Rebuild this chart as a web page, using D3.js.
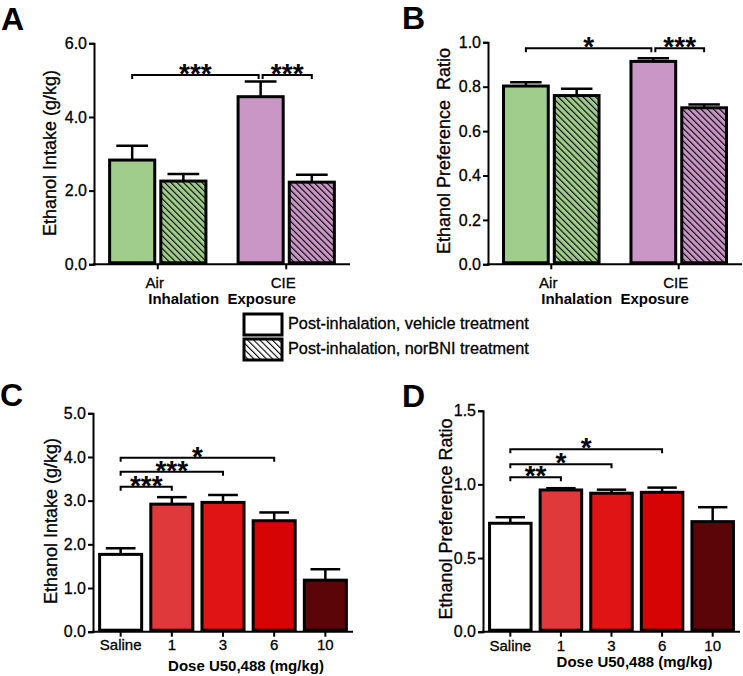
<!DOCTYPE html>
<html>
<head>
<meta charset="utf-8">
<script src="https://cdn.jsdelivr.net/npm/d3@7"></script>
<style>
  html, body { margin: 0; padding: 0; background: #fff; }
  svg { display: block; font-family: "Liberation Sans", Arial, sans-serif; }
  text { fill: #000; }
  text.reg { stroke: #000; stroke-width: 0.3px; }
</style>
</head>
<body>
<svg id="chart" width="743" height="676"></svg>
<script>
// ---------- DATA ----------
const groupsAB = ["Air", "CIE"];
const treatmentsAB = ["vehicle", "norBNI"];
const groupColors = ["#a0cc8c", "#c996c6"];

const intakeMeanA = [[2.83, 2.26], [4.55, 2.23]];
const intakeErrA  = [[0.39, 0.19], [0.41, 0.20]];
const yTicksA = [0, 2, 4, 6];

const prefMeanB = [[0.803, 0.760], [0.914, 0.705]];
const prefErrB  = [[0.017, 0.031], [0.014, 0.015]];
const yTicksB = [0, 0.2, 0.4, 0.6, 0.8, 1.0];

const doses = ["Saline", "1", "3", "6", "10"];
const doseColors = ["#ffffff", "#e0393c", "#e01414", "#d60404", "#5c0508"];
const intakeC = [1.77, 2.92, 2.96, 2.54, 1.18];
const intakeErrC = [0.14, 0.16, 0.17, 0.19, 0.25];
const yTicksC = [0, 1, 2, 3, 4, 5];

const prefD = [0.736, 0.962, 0.940, 0.946, 0.747];
const prefErrD = [0.041, 0.012, 0.024, 0.032, 0.098];
const yTicksD = [0, 0.5, 1.0, 1.5];

const legendLabels = ["Post-inhalation, vehicle treatment", "Post-inhalation, norBNI treatment"];

// significance brackets: [from, to, level, label]
const sigA = [[[0,0],[1,0], 5.14, "***"], [[1,0],[1,1], 5.14, "***"]];
const sigB = [[[0,0],[1,0], 0.973, "*"], [[1,0],[1,1], 0.973, "***"]];
const sigC = [[0,1,3.32,"***"],[0,2,3.66,"***"],[0,3,3.98,"*"]];
const sigD = [[0,1,1.048,"**"],[0,2,1.136,"*"],[0,3,1.238,"*"]];

// ---------- SETUP ----------
const svg = d3.select("#chart");
const defs = svg.append("defs");
function makeHatch(id, color) {
  const p = defs.append("pattern")
    .attr("id", id)
    .attr("patternUnits", "userSpaceOnUse")
    .attr("width", 4.4).attr("height", 4.4)
    .attr("patternTransform", "rotate(-45)");
  p.append("rect").attr("width", 4.4).attr("height", 4.4).attr("fill", color);
  p.append("line").attr("x1", 0).attr("y1", 0).attr("x2", 0).attr("y2", 4.4)
    .attr("stroke", "#000").attr("stroke-width", 2.2);
}
groupColors.forEach((c, i) => makeHatch("hatch" + i, c));
makeHatch("hatchW", "#fff");

function drawYAxis(g, y, x0, ticks, fmt) {
  const ax = d3.axisLeft(y).tickValues(ticks).tickFormat(fmt).tickSize(5).tickPadding(2);
  const a = g.append("g").attr("transform", `translate(${x0},0)`).call(ax);
  a.select(".domain").attr("stroke", "#000").attr("stroke-width", 2);
  a.selectAll(".tick line").attr("stroke", "#000").attr("stroke-width", 2);
  a.selectAll(".tick text").attr("font-size", 16).attr("fill", "#000").attr("class", "reg")
    .attr("font-family", "Liberation Sans, Arial, sans-serif");
  return a;
}

function drawXAxisLine(g, x0, x1, y0, tickXs) {
  g.append("line").attr("x1", x0 - 1).attr("x2", x1).attr("y1", y0).attr("y2", y0)
    .attr("stroke", "#000").attr("stroke-width", 2);
  tickXs.forEach(tx => {
    g.append("line").attr("x1", tx).attr("x2", tx).attr("y1", y0).attr("y2", y0 + 5)
      .attr("stroke", "#000").attr("stroke-width", 2);
  });
}

function bar(g, x, w, y, v, err, fill) {
  const top = y(v), base = y(0);
  const cx = x + w / 2, capW = w * 0.33;
  g.append("line").attr("x1", cx).attr("x2", cx).attr("y1", top).attr("y2", y(v + err))
    .attr("stroke", "#000").attr("stroke-width", 2.5);
  g.append("line").attr("x1", cx - capW).attr("x2", cx + capW).attr("y1", y(v + err)).attr("y2", y(v + err))
    .attr("stroke", "#000").attr("stroke-width", 2.5);
  g.append("rect").attr("x", x + 1.5).attr("y", top).attr("width", w - 3).attr("height", base - top - 1.5)
    .attr("fill", fill).attr("stroke", "#000").attr("stroke-width", 3);
}

function bracket(g, xa, xb, yy, label, fs) {
  g.append("path")
    .attr("d", `M${xa},${yy + 4}L${xa},${yy}L${xb},${yy}L${xb},${yy + 4}`)
    .attr("fill", "none").attr("stroke", "#000").attr("stroke-width", 2);
  g.append("text").attr("x", (xa + xb) / 2).attr("y", yy + 8)
    .attr("text-anchor", "middle").attr("font-size", fs).attr("font-weight", "bold")
    .text(label);
}

function panelLetter(x, y, t) {
  svg.append("text").attr("x", x).attr("y", y).attr("font-size", 32).attr("font-weight", "bold")
    .attr("font-family", "Liberation Sans, Arial, sans-serif").text(t);
}

function yTitle(x, yc, t) {
  svg.append("text").attr("class", "reg").attr("transform", `translate(${x},${yc}) rotate(-90)`)
    .attr("text-anchor", "middle").attr("font-size", 18).style("white-space", "pre").text(t);
}

// ---------- PANELS A & B ----------
function panelAB(x0, x1, yTop, yBot, domainMax, ticks, fmt, means, errs, sig, title, letterX, letterY) {
  const g = svg.append("g");
  const y = d3.scaleLinear().domain([0, domainMax]).range([yBot, yTop]);
  const xg = d3.scaleBand().domain(groupsAB).range([x0, x1]).paddingInner(0.227).paddingOuter(0.11);
  const xi = d3.scaleBand().domain(treatmentsAB).range([0, xg.bandwidth()]).paddingInner(0.06);
  groupsAB.forEach((gr, gi) => {
    treatmentsAB.forEach((tr, ti) => {
      const fill = ti === 0 ? groupColors[gi] : `url(#hatch${gi})`;
      bar(g, xg(gr) + xi(tr), xi.bandwidth(), y, means[gi][ti], errs[gi][ti], fill);
    });
  });
  drawXAxisLine(g, x0, x1, yBot, groupsAB.map(d => xg(d) + xg.bandwidth() / 2));
  drawYAxis(g, y, x0, ticks, fmt);
  groupsAB.forEach(gr => {
    g.append("text").attr("class", "reg").attr("x", xg(gr) + xg.bandwidth() / 2 - 3).attr("y", yBot + 24)
      .attr("text-anchor", "middle").attr("font-size", 15).text(gr);
  });
  g.append("text").attr("x", (x0 + x1) / 2).attr("y", yBot + 40).attr("text-anchor", "middle")
    .attr("font-size", 15).attr("font-weight", "bold").style("white-space", "pre").text("Inhalation  Exposure");
  const cx = (gi, ti) => xg(groupsAB[gi]) + xi(treatmentsAB[ti]) + xi.bandwidth() / 2;
  sig.forEach((s, k) => {
    let xa = cx(s[0][0], s[0][1]), xb = cx(s[1][0], s[1][1]);
    if (k === 0) xb -= 2; else xa += 2;
    bracket(g, xa, xb, y(s[2]), s[3], 28);
  });
  panelLetter(letterX, letterY, title);
}

panelAB(94, 350, 43.3, 264.3, 6, yTicksA, d3.format(".1f"), intakeMeanA, intakeErrA, sigA, "A", 1, 30);
yTitle(56, 153, "Ethanol Intake (g/kg)");
panelAB(488, 742, 42.3, 264.3, 1.0, yTicksB, d3.format(".1f"), prefMeanB, prefErrB, sigB, "B", 402, 29);
yTitle(450, 151, "Ethanol Preference  Ratio");

// ---------- LEGEND ----------
{
  const lg = svg.append("g");
  const fills = ["#fff", "url(#hatchW)"];
  const ys = [313, 338];
  legendLabels.forEach((l, i) => {
    lg.append("rect").attr("x", 244).attr("y", ys[i] + 1).attr("width", 38).attr("height", 21)
      .attr("fill", fills[i]).attr("stroke", "#000").attr("stroke-width", 3);
    lg.append("text").attr("class", "reg").attr("x", 288).attr("y", ys[i] + 16).attr("font-size", 16.3).text(l);
  });
}

// ---------- PANELS C & D ----------
function panelCD(x0, x1, yTop, yBot, domainMax, ticks, fmt, vals, errs, sig, letter, lx, ly, tickBase, titleBase) {
  const g = svg.append("g");
  const y = d3.scaleLinear().domain([0, domainMax]).range([yBot, yTop]);
  const x = d3.scaleBand().domain(doses).range([x0, x1]).paddingInner(0.12).paddingOuter(0.1);
  doses.forEach((d, i) => bar(g, x(d), x.bandwidth(), y, vals[i], errs[i], doseColors[i]));
  drawXAxisLine(g, x0, x1, yBot, doses.map(d => x(d) + x.bandwidth() / 2));
  drawYAxis(g, y, x0, ticks, fmt);
  doses.forEach(d => {
    g.append("text").attr("class", "reg").attr("x", x(d) + x.bandwidth() / 2).attr("y", tickBase)
      .attr("text-anchor", "middle").attr("font-size", 15).text(d);
  });
  g.append("text").attr("x", (x0 + x1) / 2 + 23).attr("y", titleBase).attr("text-anchor", "middle")
    .attr("font-size", 15).attr("font-weight", "bold").text("Dose U50,488 (mg/kg)");
  const cx = i => x(doses[i]) + x.bandwidth() / 2;
  sig.forEach(s => bracket(g, cx(s[0]), cx(s[1]), y(s[2]), s[3], 28));
  panelLetter(lx, ly, letter);
}

panelCD(93, 353, 413.3, 631.7, 5, yTicksC, d3.format(".1f"), intakeC, intakeErrC, sigC, "C", 0, 406, 650, 671);
yTitle(57, 521, "Ethanol Intake (g/kg)");
panelCD(483, 740, 410.7, 631.7, 1.5, yTicksD, d3.format(".1f"), prefD, prefErrD, sigD, "D", 402, 407, 651, 667);
yTitle(452, 519, "Ethanol Preference Ratio");
</script>
</body>
</html>
